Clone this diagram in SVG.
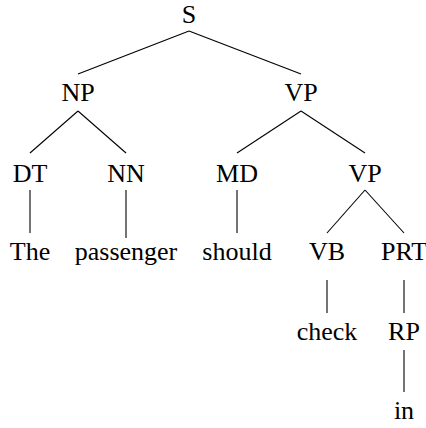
<svg xmlns="http://www.w3.org/2000/svg" width="426" height="428" viewBox="0 0 426 428">
<rect width="426" height="428" fill="#fff"/>
<g id="edges" stroke="#000" stroke-width="1.1">
<line x1="189" y1="31" x2="78" y2="74"/>
<line x1="189" y1="31" x2="301" y2="74"/>
<line x1="78" y1="111" x2="30" y2="153"/>
<line x1="78" y1="111" x2="126" y2="153"/>
<line x1="301" y1="111" x2="237" y2="153"/>
<line x1="301" y1="111" x2="365" y2="153"/>
<line x1="30" y1="190" x2="30" y2="233"/>
<line x1="126" y1="190" x2="126" y2="238"/>
<line x1="237" y1="190" x2="237" y2="233"/>
<line x1="365" y1="190" x2="327" y2="233"/>
<line x1="365" y1="190" x2="404" y2="233"/>
<line x1="327" y1="280" x2="327" y2="313"/>
<line x1="404" y1="280" x2="404" y2="313"/>
<line x1="404" y1="350" x2="404" y2="392"/>
</g>
<g id="S"><text x="189" y="23" font-family="Liberation Serif" font-size="26" text-anchor="middle">S</text></g>
<g id="NP"><text x="78" y="101" font-family="Liberation Serif" font-size="26" text-anchor="middle">NP</text></g>
<g id="VP"><text x="301" y="101" font-family="Liberation Serif" font-size="26" text-anchor="middle">VP</text></g>
<g id="DT"><text x="30" y="182" font-family="Liberation Serif" font-size="26" text-anchor="middle">DT</text></g>
<g id="NN"><text x="126" y="182" font-family="Liberation Serif" font-size="26" text-anchor="middle">NN</text></g>
<g id="MD"><text x="237" y="182" font-family="Liberation Serif" font-size="26" text-anchor="middle">MD</text></g>
<g id="VP2"><text x="365" y="182" font-family="Liberation Serif" font-size="26" text-anchor="middle">VP</text></g>
<g id="The"><text x="30" y="260" font-family="Liberation Serif" font-size="26" text-anchor="middle">The</text></g>
<g id="passenger"><text x="126" y="260" font-family="Liberation Serif" font-size="26" text-anchor="middle">passenger</text></g>
<g id="should"><text x="237" y="260" font-family="Liberation Serif" font-size="26" text-anchor="middle">should</text></g>
<g id="VB"><text x="327" y="260" font-family="Liberation Serif" font-size="26" text-anchor="middle">VB</text></g>
<g id="PRT"><text x="404" y="260" font-family="Liberation Serif" font-size="26" text-anchor="middle">PRT</text></g>
<g id="check"><text x="327" y="340" font-family="Liberation Serif" font-size="26" text-anchor="middle">check</text></g>
<g id="RP"><text x="404" y="340" font-family="Liberation Serif" font-size="26" text-anchor="middle">RP</text></g>
<g id="in"><text x="404" y="419" font-family="Liberation Serif" font-size="26" text-anchor="middle">in</text></g>
</svg>
